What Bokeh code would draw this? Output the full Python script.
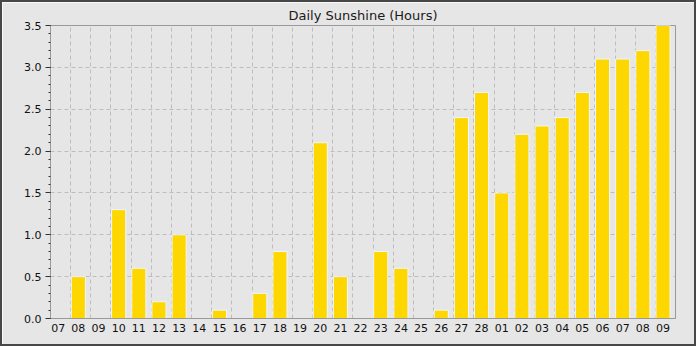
from bokeh.plotting import figure
from bokeh.models import Range1d, FixedTicker, SingleIntervalTicker, NumeralTickFormatter, ColumnDataSource
from bokeh.embed import file_html
from bokeh.resources import INLINE

days = ["07", "08", "09", "10", "11", "12", "13", "14", "15", "16", "17", "18", "19", "20", "21", "22",
        "23", "24", "25", "26", "27", "28", "01", "02", "03", "04", "05", "06", "07", "08", "09"]
sunshine = [0, 0.5, 0, 1.3, 0.6, 0.2, 1.0, 0, 0.1, 0, 0.3, 0.8, 0, 2.1, 0.5, 0,
            0.8, 0.6, 0, 0.1, 2.4, 2.7, 1.5, 2.2, 2.3, 2.4, 2.7, 3.1, 3.1, 3.2, 3.5]
y_max = 3.5
title_text = "Daily Sunshine (Hours)"

n = len(days)
idx = list(range(n))
src = ColumnDataSource(dict(x=idx, top=sunshine))

W, H = 696, 346
OFF = 0.38
p = figure(width=W, height=H, output_backend="svg", toolbar_location=None,
           x_range=Range1d(-OFF, n - OFF), y_range=Range1d(0, y_max),
           title=title_text,
           min_border_left=48, min_border_right=23, min_border_top=23, min_border_bottom=30,
           background_fill_color="#e6e6e6", border_fill_color="#e6e6e6",
           styles={"border": "2px solid #474747"})

p.vbar(x="x", top="top", width=0.7, bottom=0, source=src,
       fill_color="#ffd700", line_color="#eef6ff", line_width=1)

p.title.align = "center"
p.title.offset = -12
p.title.text_font = "DejaVu Sans"
p.title.text_font_size = "13px"
p.title.text_font_style = "normal"
p.title.text_color = "#1a1a1a"
p.title.standoff = 5

p.outline_line_color = "#999999"
p.outline_line_width = 1

# x axis
xa = p.xaxis[0]
xa.ticker = FixedTicker(ticks=idx)
xa.major_label_overrides = {i: d for i, d in zip(idx, days)}
xa.major_tick_out = 0
xa.major_tick_in = 0
xa.minor_tick_out = 0
xa.minor_tick_in = 0
xa.axis_line_color = "#999999"
xa.major_label_text_font = "DejaVu Sans"
xa.major_label_text_font_size = "11px"
xa.major_label_text_color = "#111111"
xa.major_label_standoff = 5

# y axis
ya = p.yaxis[0]
ya.ticker = SingleIntervalTicker(interval=0.5, num_minor_ticks=5)
ya.formatter = NumeralTickFormatter(format="0.0")
ya.major_tick_out = 5
ya.major_tick_in = 0
ya.minor_tick_out = 2
ya.minor_tick_in = 0
ya.axis_line_color = "#999999"
ya.major_tick_line_color = "#333333"
ya.minor_tick_line_color = "#333333"
ya.major_label_text_font = "DejaVu Sans"
ya.major_label_text_font_size = "11px"
ya.major_label_text_color = "#111111"
ya.major_label_standoff = 4

# grids
p.xgrid[0].ticker = FixedTicker(ticks=[i - OFF for i in range(n + 1)])
p.xgrid[0].grid_line_color = "#bdbdbd"
p.xgrid[0].grid_line_dash = "4 3"
p.ygrid[0].grid_line_color = "#bdbdbd"
p.ygrid[0].grid_line_dash = "4 3"

open("out.html", "w").write(file_html(p, INLINE))
